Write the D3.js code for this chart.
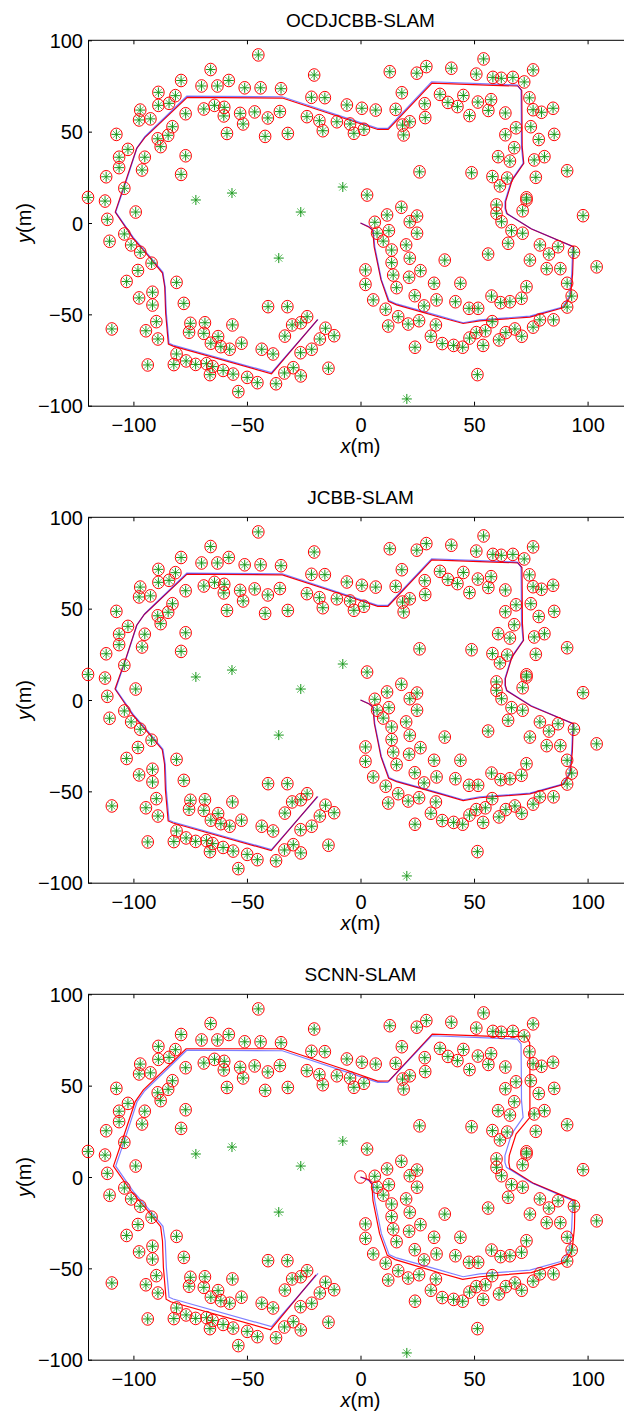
<!DOCTYPE html>
<html>
<head>
<meta charset="utf-8">
<script src="https://cdnjs.cloudflare.com/ajax/libs/d3/7.8.5/d3.min.js"></script>
<style>
  body { margin: 0; background: #fff; }
  svg { display: block; }
  text { font-family: "Liberation Sans", Arial, sans-serif; fill: #000; }
</style>
</head>
<body>
<div id="chart"></div>
<script>
const titles = ["OCDJCBB-SLAM", "JCBB-SLAM", "SCNN-SLAM"];
const xTicks = [-100, -50, 0, 50, 100];
const yTicks = [-100, -50, 0, 50, 100];

// observed landmarks (green star + red circle)
const landmarks = [
  [-45,92],[-66,84],[-79,78],[-70,75],[-63,75],[-58,78],[-51,74],[-44,74],[-35,73.5],[-89,71.5],
  [-81.5,69.7],[-84.3,65.5],[-89,64.4],[-97,61.8],[-97.5,56.4],[-92.5,57],[-77,59.8],[-69,62.4],[-64.3,64.4],[-60,63.3],
  [-60.2,58.6],[-53,60],[-51.7,54.2],[-46.6,60.8],[-40.8,57.5],[-35.5,61],[-82.8,52.7],[-84.7,48],[-89.3,46.1],[-88,41.8],
  [-107.5,48.5],[-102.4,40.3],[-106.3,36],[-106.3,30.3],[-95,36],[-96.2,29],[-77,36.8],[-58.8,49],[-42,47.4],[-79,26.6],
  [-112,25.3],[-32,49],
  [-20.4,81],[-15.7,68.6],[-21.6,68.8],[-23.6,58.2],[-18.1,56],[-16.6,50.5],[-10.4,55.4],[-4.6,54.2],[-2.9,49.1],[1.5,51.3],
  [-6,64.6],[0.6,62.8],[6.7,61.8],[15.5,62.2],[12.9,82.8],[18.2,71.3],[24.8,82],[29,85.6],[40,84.7],[18.5,53.6],
  [21.7,55.4],[19,48.2],[28.5,57.7],[28.3,65.3],[35,70.4],[38.5,66],[42.7,63.7],[45.3,69.8],[48,58.8],[51.7,66.2],
  [57.5,67.5],[56.3,61.6],[63.8,60.2],[54.2,89.8],[51,81.5],[58.3,79.7],[62,79.2],[67.1,79.7],[72.1,77.2],[76,83.8],
  [74.4,68.5],[76,62],[79.7,60.6],[84.8,62.8],[85.3,48.5],[78.5,45.7],[75,52.7],[68.5,52.1],[63.8,48.3],[67.7,41.2],
  [60.6,36.3],[65.8,33.9],[76.5,34.5],[81,36.3],[91,28.6],[48.9,27.5],[58.1,25.4],[64.6,24.6],[77.2,25],[61.4,20.3],
  [73.1,13.8],[26,28],
  [2.9,15.3],[18,8.6],[11.7,4.4],[24.9,3.8],[21.7,0.7],[6.3,0.4],[7.3,-5.6],[12.5,-4.2],[10,-9.9],[24.9,-5.6],
  [20.1,-12],[13.7,-14.8],[13.7,-21.7],[21.7,-19.3],[37.1,-20.3],[56.2,-17],[2.2,-25.7],[2.2,-33.6],[14.4,-28.5],[26.4,-26.1],
  [21.4,-29.7],[15.9,-35.4],[32.4,-33],[44,-33],[5.6,-42.1],[23.9,-39.8],[33.5,-42.1],[28,-45.4],[41.8,-43.1],[57.7,-40],
  [47.8,-46.7],[51.8,-46.7],[61.7,-43.6],[65.8,-43.1],[70.9,-41.2],[73.1,-34.9],[74.6,-20.3],[11.1,-47.2],[16.6,-51.3],[21,-55.3],
  [25.8,-53.5],[33.2,-55.8],[12.2,-56.4],[59.9,9.9],[59.9,5.3],[62.1,0.7],[73.1,12.6],[71.4,6.7],[66.5,-4.2],[71.4,-5.6],
  [65,-11.1],
  [24,-68],[31,-62],[36,-66],[41,-67],[45,-68],[48,-63],[51,-60],[55,-59],[54,-67],[58,-54],
  [61,-64],[64,-60],[68,-58],[71,-62],[76,-57],[79,-53],[85,-53],[91,-46],[93,-40],[91,-33],
  [88,-25],[104,-24],[94,-16],[98,4],[51.5,-83],[79,-12],[83,-17],[87,-13],[82,-25],
  [-120,14],[-112.5,12],[-111.5,2],[-110.5,-10],[-104,-6],[-101,-12],[-97,-16],[-103,-32],[-98,-26],[-92,-22],
  [-109.5,-58],[-81,-32.5],[-91.6,-37.9],[-91.6,-44.9],[-89.9,-54],[-89.2,-63.5],[-93.7,-77.7],[-97.5,-41],[-94.5,-59],[-104,19],
  [-99,6],
  [-77.8,-44],[-74.9,-54.9],[-75.5,-59.8],[-68.5,-54.6],[-69,-60.4],[-56.4,-55.8],[-40.7,-45.8],[-32.2,-45.8],[-23.5,-51.3],[-26.3,-54.6],
  [-30.1,-55.8],[-33.3,-61.9],[-15.4,-57.6],[-11.6,-61.7],[-17.9,-63.5],[-21.5,-69.1],[-26.4,-71],[-14.1,-79.5],[-29.6,-79.2],[-33.5,-82.1],
  [-26.3,-83.7],[-38.5,-71.7],[-43.5,-69.1],[-37.2,-88],[-45.4,-87.4],[-49.9,-84.5],[-53.8,-92.3],[-56.1,-82.7],[-60.5,-80.7],[-52.4,-65.8],
  [-57.6,-69.1],[-61.5,-67.7],[-62.7,-62.2],[-65.9,-65.8],[-81,-71.7],[-82.2,-77.5],[-76.8,-75.5],[-72.6,-77.4],[-67.8,-77],[-65.1,-78.6],
  [-66.3,-83]
];

// landmarks never observed (star only)
const unobserved = [[-72.5,12.6],[-56.6,16.4],[-26.3,6],[-7.8,19.7],[-36,-19.2],[20.4,-96.3]];

// spurious estimated landmarks (circle only), per panel
const extraCircles = [[], [], [[0,0]]];

// true robot path (blue)
const truePath = [
  [0,0],[3.8,-2],[5.6,-4],[6.3,-13],[9.2,-31],[12.6,-42.5],[15.9,-44.3],[35,-51],[45.2,-54.6],[52.5,-53],
  [74.6,-51],[89,-46],[92,-40],[93,-28],[93.5,-13],[75,-3],[64.3,5.3],[63.6,8],[63.6,11.7],[66.5,23.5],
  [71.6,32.7],[70.9,41.8],[70.8,60],[70.7,72.8],[69,75.5],[58.5,76],[31.3,77.3],[12,51.8],[7.6,51.8],[-5,57],
  [-34.4,69.1],[-76.5,69.4],[-95,47.2],[-98.4,41.2],[-103,23.5],[-107.8,6],[-100,-8],[-93,-18],[-87,-27],[-86,-35],
  [-85.5,-49.4],[-84.3,-65.8],[-82.5,-66.8],[-39.2,-81.9],[-18.7,-52.7]
];

// estimated robot paths (red), per panel
const estPath1 = [
  [0,0],[3.8,-2.3],[5.4,-4],[6,-13],[9,-31],[12.3,-42.8],[15.9,-44.8],[35,-51.6],[45.2,-55],[52.5,-53.6],
  [74.6,-51.5],[89.5,-46.3],[92.5,-40],[93.4,-28],[93.8,-13],[75.3,-3.3],[64.6,5],[63.9,8],[63.9,11.7],[66.8,23.5],
  [71.9,32.7],[71.2,41.8],[71.1,60],[71,72.6],[69.3,75],[58.5,75.3],[31.5,76.6],[12.2,51.2],[7.6,51.2],[-5,56.4],
  [-34.4,68.4],[-76.3,68.8],[-95,46.7],[-98.6,40.7],[-103.3,23.3],[-108,6],[-100.2,-8.3],[-93.2,-18.4],[-87.2,-27.4],[-86.2,-35],
  [-85.8,-49.4],[-84.6,-66.3],[-82.5,-67.4],[-39.2,-82.5],[-18.9,-52.9]
];
const estPath2 = [
  [0,0],[3.8,-2.2],[5.5,-4],[6.1,-13],[9,-31],[12.4,-42.9],[15.9,-44.7],[35,-51.4],[45.2,-55.1],[52.5,-53.5],
  [74.6,-51.4],[89.4,-46.2],[92.4,-40],[93.3,-28],[93.7,-13],[75.2,-3.4],[64.5,5],[63.8,8],[63.8,11.7],[66.7,23.5],
  [71.8,32.7],[71.3,41.8],[71.2,60],[71.1,72.5],[69.3,75.1],[58.5,75.5],[31.4,76.7],[12.1,51.3],[7.6,51.3],[-5,56.5],
  [-34.4,68.5],[-76.4,68.9],[-95.2,46.8],[-98.6,40.8],[-103.2,23.2],[-108.1,6],[-100.3,-8.2],[-93.3,-18.3],[-87.3,-27.2],[-86.3,-35],
  [-85.9,-49.4],[-84.7,-66.2],[-82.6,-67.3],[-39.3,-82.4],[-19,-52.9]
];
const estPath3 = [
  [0,0],[3.6,-1.4],[5,-4],[5.5,-13],[8.4,-31],[11.8,-42.9],[15.3,-45.2],[34.6,-52.4],[45,-56],[52.6,-54.6],
  [75.2,-52.3],[90.2,-46.6],[93.2,-40],[94.2,-28],[94.5,-13],[76.3,-3.5],[65.8,4.6],[65.3,8],[65.5,11.7],[68.5,23.5],
  [74.6,32.7],[74.6,41.8],[74.6,60],[74.5,73.5],[73,76.8],[58.5,77],[31.6,78.2],[12.5,52.6],[7.6,52.5],[-5,58],
  [-34.4,70.2],[-76.8,70.2],[-95.6,47.7],[-99.2,41.3],[-104,23.4],[-108.8,6],[-100.8,-8.2],[-93.8,-18.3],[-88,-27.2],[-87.2,-35],
  [-86.8,-49.4],[-85.6,-66.9],[-83.6,-68.3],[-39.6,-83.6],[-19.6,-53.6]
];
const estPaths = [estPath1, estPath2, estPath3];

const width = 624, height = 1422;
const panelStep = 477;
const plotLeft = 88, plotRight = 633, plotTop = 40.3, plotBottom = 405.7;

const svg = d3.select("#chart").append("svg")
  .attr("width", width)
  .attr("height", height);

const x = d3.scaleLinear().domain([-120, 120]).range([plotLeft, plotRight]);
const y = d3.scaleLinear().domain([-100, 100]).range([plotBottom, plotTop]);
const fmt = d3.format("d");
const line = d3.line().x(d => x(d[0])).y(d => y(d[1]));
const starPlus = "M-5,0H5M0,-5V5";
const starCross = "M-3.6,-3.6L3.6,3.6M-3.6,3.6L3.6,-3.6";

titles.forEach((title, k) => {
  const g = svg.append("g").attr("transform", `translate(0,${k * panelStep})`);

  // axes frame
  g.append("line").attr("x1", plotLeft).attr("x2", plotRight).attr("y1", plotTop).attr("y2", plotTop)
    .attr("stroke", "#000").attr("stroke-width", 1);

  const xAxis = g.append("g").attr("transform", `translate(0,${plotBottom})`)
    .call(d3.axisBottom(x).tickValues(xTicks).tickFormat(fmt).tickSizeInner(-4).tickSizeOuter(0).tickPadding(11.5));
  const xTop = g.append("g").attr("transform", `translate(0,${plotTop})`)
    .call(d3.axisTop(x).tickValues(xTicks).tickFormat("").tickSizeInner(-4).tickSizeOuter(0));
  xTop.select(".domain").remove();
  const yAxis = g.append("g").attr("transform", `translate(${plotLeft},0)`)
    .call(d3.axisLeft(y).tickValues(yTicks).tickFormat(fmt).tickSizeInner(-4).tickSizeOuter(0).tickPadding(5));

  [xAxis, yAxis, xTop].forEach(a => {
    a.selectAll("path, line").attr("stroke", "#000").attr("stroke-width", 1);
    a.selectAll("text").style("font-size", "20px").attr("fill", "#000");
  });
  xAxis.selectAll("text").attr("dy", null).attr("y", 26);
  yAxis.selectAll("text").attr("dy", "0.36em");

  // title and labels
  g.append("text").attr("x", (plotLeft + plotRight) / 2).attr("y", 27)
    .attr("text-anchor", "middle").style("font-size", "19px").text(title);

  const xl = g.append("text").attr("x", (plotLeft + plotRight) / 2).attr("y", 453)
    .attr("text-anchor", "middle").style("font-size", "20px");
  xl.append("tspan").style("font-style", "italic").text("x");
  xl.append("tspan").text("(m)");

  const yl = g.append("text").attr("transform", `translate(31,${(plotTop + plotBottom) / 2}) rotate(-90)`)
    .attr("text-anchor", "middle").style("font-size", "20px");
  yl.append("tspan").style("font-style", "italic").text("y");
  yl.append("tspan").text("(m)");

  // trajectories: red estimate, then translucent blue truth on top
  g.append("path").datum(estPaths[k]).attr("d", line)
    .attr("fill", "none").attr("stroke", "#ff0000").attr("stroke-width", 1.2);
  g.append("path").datum(truePath).attr("d", line)
    .attr("fill", "none").attr("stroke", "#0000ff").attr("stroke-opacity", 0.5).attr("stroke-width", 1.2);

  // landmark stars: green plus, lighter diagonals
  const stars = g.append("g").selectAll("g")
    .data(landmarks.concat(unobserved))
    .enter().append("g")
    .attr("transform", d => `translate(${x(d[0])},${y(d[1])})`);
  stars.append("path").attr("d", starCross)
    .attr("fill", "none").attr("stroke", "#5cbc5c").attr("stroke-width", 1);
  stars.append("path").attr("d", starPlus)
    .attr("fill", "none").attr("stroke", "#16961a").attr("stroke-width", 1);

  // estimated landmark circles
  g.append("g").selectAll("ellipse")
    .data(landmarks.concat(extraCircles[k]))
    .enter().append("ellipse")
    .attr("cx", d => x(d[0])).attr("cy", d => y(d[1]))
    .attr("rx", 5.8).attr("ry", 6.3)
    .attr("fill", "none").attr("stroke", "#ff0000").attr("stroke-width", 1);
});
</script>
</body>
</html>
